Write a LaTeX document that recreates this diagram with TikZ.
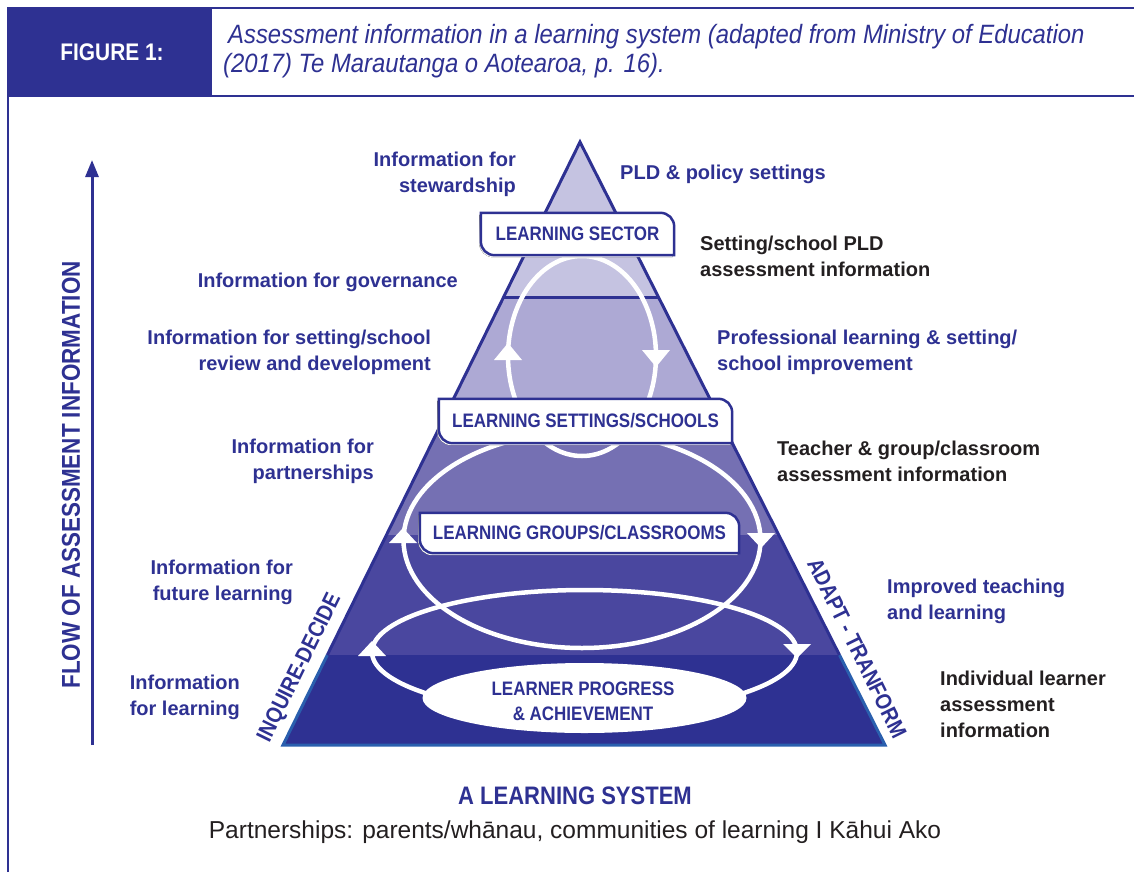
\documentclass[tikz,border=0pt]{standalone}
\usepackage{fontspec}
\setmainfont{Liberation Sans}
\newfontfamily\narrowfont{Liberation Sans}[FakeStretch=0.87]
\newfontfamily\captionfont{Liberation Sans}[FakeStretch=0.9]
\usetikzlibrary{calc,arrows.meta}
\definecolor{navy}{HTML}{2E3192}
\definecolor{shade}{HTML}{23267A}
\definecolor{baseblue}{HTML}{2A5FAE}
\definecolor{ink}{HTML}{231F20}
\definecolor{bandA}{HTML}{C5C3E1}
\definecolor{bandB}{HTML}{ADA9D4}
\definecolor{bandC}{HTML}{7570B3}
\definecolor{bandD}{HTML}{4A479F}
\definecolor{bandE}{HTML}{2E3192}
\pgfdeclarelayer{back}
\pgfdeclarelayer{mid}
\pgfsetlayers{back,mid,main}
\begin{document}
\begin{tikzpicture}[x=1pt,y=-1pt,
  lab/.style={font=\bfseries\fontsize{20}{26}\selectfont, inner sep=0pt},
  bluelab/.style={lab, text=navy, align=#1},
  darklab/.style={lab, text=ink, align=left, anchor=west},
  boxlab/.style={font=\narrowfont\bfseries\fontsize{19.5}{25}\selectfont, text=navy, inner sep=0pt},
  boxsize/.style n args={2}{minimum width=#1, minimum height=#2},
  % label box outline: square top-left / bottom-right, rounded top-right / bottom-left
  leafshape/.style={insert path={(#1.north west) -- ($(#1.north east)+(-14,0)$)
    .. controls ($(#1.north east)+(-6,0)$) and ($(#1.north east)+(0,6)$) .. ($(#1.north east)+(0,14)$)
    -- (#1.south east) -- ($(#1.south west)+(14,0)$)
    .. controls ($(#1.south west)+(6,0)$) and ($(#1.south west)+(0,-6)$) .. ($(#1.south west)+(0,-14)$)
    -- cycle}},
  boxedge/.style={draw=navy, line width=2.5pt, fill=white},
  loopline/.style={draw=white, line width=4.5pt},
  loophead/.style={fill=white},
  edgelab/.style={font=\narrowfont\bfseries\fontsize{22.5}{24}\selectfont, text=navy, inner sep=0pt},
  captext/.style={font=\captionfont\itshape\fontsize{26.5}{29}\selectfont, text=navy, inner sep=0pt, anchor=base west},
  frameline/.style={draw=navy, line width=2pt}]
\useasboundingbox (0,0) rectangle (1134,872);

% ---------- header ----------
\fill[navy] (8,8) rectangle (212,96);
\node[font=\narrowfont\bfseries\fontsize{24}{26}\selectfont, text=white, inner sep=0pt] (figno) at (112,52) {FIGURE 1:};
\draw[frameline] (8,872) -- (8,8) -- (1134,8);
\draw[frameline] (8,96) -- (1134,96);
\node[captext] (caption) at (228,44) {Assessment information in a learning system (adapted from Ministry of Education};
\node[captext] (captionb) at (223,73) {(2017) Te Marautanga o Aotearoa, p. 16).};

% ---------- pyramid ----------
\coordinate (apex) at (580,142);
\coordinate (bl) at (283,745);
\coordinate (br) at (885,745);
\coordinate (lowl) at ($(bl)!0.149!(apex)$);
\coordinate (lowr) at ($(br)!0.149!(apex)$);
\begin{pgfonlayer}{back}
\begin{scope}
  \clip (apex) -- (bl) -- (br) -- cycle;
  \fill[bandA] (0,100) rectangle (1134,297);
  \fill[bandB] (0,297) rectangle (1134,425);
  \fill[bandC] (0,425) rectangle (1134,535);
  \fill[bandD] (0,535) rectangle (1134,655);
  \fill[bandE] (0,655) rectangle (1134,760);
  \draw[navy, line width=3pt] (0,297) -- (1134,297);
\end{scope}
\draw[navy, line width=3pt, line join=miter] (lowl) -- (apex) -- (lowr);
\draw[baseblue, line width=3pt, line join=miter] (lowl) -- (bl) -- (br) -- (lowr);

% ---------- cycles ----------
\draw[loopline] (582,356) ellipse [x radius=74, y radius=100];
\draw[loopline] (582,540) ellipse [x radius=178.5, y radius=108];
\draw[loopline] (584.5,652) ellipse [x radius=212.5, y radius=62];
% arrow heads: up on the left, down on the right
\fill[loophead, shift={(508,352)}] (0,-9) -- (-14,8) -- (14,8) -- cycle;
\fill[loophead, shift={(656,358)}] (0,9) -- (-14,-8) -- (14,-8) -- cycle;
\fill[loophead, shift={(403,536)}] (0,-8) -- (-14,7) -- (14,7) -- cycle;
\fill[loophead, shift={(761,540)}] (0,8) -- (-14,-7) -- (14,-7) -- cycle;
\fill[loophead, shift={(372,649)}] (0,-8) -- (-14,7) -- (14,7) -- cycle;
\fill[loophead, shift={(797,651)}] (0,7) -- (-14,-7) -- (14,-7) -- cycle;
\end{pgfonlayer}

% ---------- level boxes ----------
\node[boxlab, boxsize={193}{42}] (sector) at (577.5,234) {LEARNING SECTOR};
\node[boxlab, boxsize={293}{44}] (settings) at (585.5,421) {LEARNING SETTINGS/SCHOOLS};
\node[boxlab, boxsize={319}{40}] (groups) at (579.5,533) {LEARNING GROUPS/CLASSROOMS};
\begin{pgfonlayer}{mid}
\foreach \b in {sector,settings,groups}{
  \fill[shade, transform canvas={shift={(-1.5pt,-2pt)}}, leafshape=\b];
  \path[boxedge, leafshape=\b];
}
\fill[white] (584.5,698) ellipse [x radius=162, y radius=35];
\end{pgfonlayer}
\node[boxlab, align=center] (learner) at (583,701) {LEARNER PROGRESS\\\& ACHIEVEMENT};

% ---------- left-hand labels ----------
\node[bluelab=right, anchor=east] (steward) at (516,174) {Information for\\stewardship};
\node[bluelab=right, anchor=east] (govern) at (458,282) {Information for governance};
\node[bluelab=right, anchor=east] (review) at (431,352) {Information for setting/school\\review and development};
\node[bluelab=right, anchor=east] (partner) at (374,461) {Information for\\partnerships};
\node[bluelab=right, anchor=east] (future) at (293,582) {Information for\\future learning};
\node[bluelab=right, anchor=east] (forlearn) at (240,697) {Information\\for learning};

% ---------- right-hand labels ----------
\node[bluelab=left, anchor=west] (policy) at (620,174) {PLD \& policy settings};
\node[darklab] (pldinfo) at (700,256) {Setting/school PLD\\assessment information};
\node[bluelab=left, anchor=west] (improve) at (717,352) {Professional learning \& setting/\\school improvement};
\node[darklab] (teacher) at (777,461) {Teacher \& group/classroom\\assessment information};
\node[bluelab=left, anchor=west] (teaching) at (887,601) {Improved teaching\\and learning};
\node[darklab] (individual) at (940,704) {Individual learner\\assessment\\information};

% ---------- edge labels ----------
\node[edgelab, rotate=63.8] (inquire) at (300,668) {INQUIRE-DECIDE};
\node[edgelab, rotate=-63.8] (adapt) at (857,648) {ADAPT - TRANFORM};

% ---------- flow arrow ----------
\coordinate (flowlow) at (92,745);
\coordinate (flowhigh) at (92,160);
\draw[navy, line width=3pt, -{Triangle[width=13pt,length=17pt]}] (flowlow) -- (flowhigh);
\node[font=\narrowfont\bfseries\fontsize{25.8}{28}\selectfont, text=navy, inner sep=0pt, rotate=90] (flow) at (71,475) {FLOW OF ASSESSMENT INFORMATION};

% ---------- footer ----------
\node[font=\narrowfont\bfseries\fontsize{25.3}{28}\selectfont, text=navy, inner sep=0pt] (system) at (575,796) {A LEARNING SYSTEM};
\node[font=\fontsize{24.5}{27}\selectfont, text=ink, inner sep=0pt] (partners) at (575,832) {Partnerships: parents/whānau, communities of learning I Kāhui Ako};
\end{tikzpicture}
\end{document}
